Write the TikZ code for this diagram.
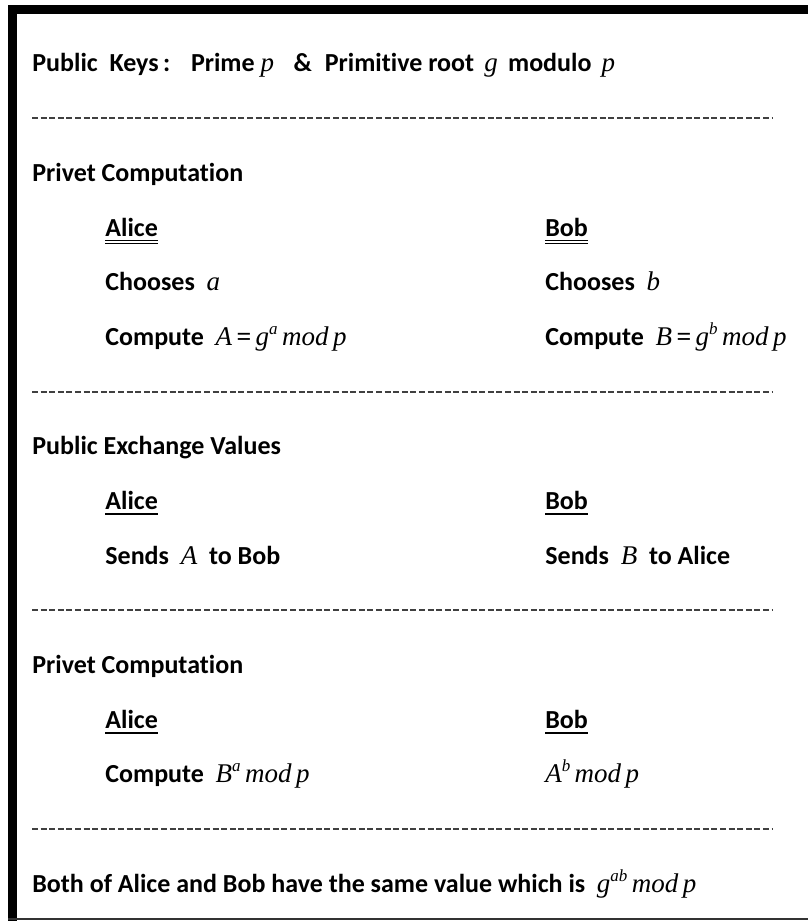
\documentclass[tikz,border=0pt]{standalone}
\usepackage{fontspec}
\setmainfont{Carlito}[Ligatures=NoCommon]
\newfontfamily\timesfont{Liberation Serif}
\usepackage{tikz}

% italic variables set in a Times-like face
\newcommand{\mv}[1]{{\timesfont\itshape\mdseries\fontsize{13.5}{15}\selectfont #1}}
\newcommand{\pw}[1]{\raisebox{0.42em}{\timesfont\itshape\mdseries\fontsize{8.5}{9}\selectfont #1}}
\newcommand{\modp}{\mv{mod\,p}}

\begin{document}
\begin{tikzpicture}[x=0.5pt,y=-0.5pt]
    \tikzstyle{every node} = [font=\fontsize{13}{15}\selectfont\bfseries, anchor=base west, inner sep=0pt]
    \tikzstyle{sep} = [draw=black!75, line width=0.75pt, dash pattern=on 3pt off 1.3pt]
    \tikzstyle{uline} = [line width=0.9pt]
    \tikzstyle{dline} = [line width=0.45pt]
    \useasboundingbox (0,0) rectangle (808,921);

    % frame
    \fill (8,5) rectangle (808,14);
    \fill (8,5) rectangle (17,921);
    \draw[black!80,line width=1pt] (8,919) -- (808,919);

    % public keys
    \node (keys) at (32,71) {Public\ \ Keys\,:\hspace{0.8em}Prime\ \mv{p}\hspace{0.75em}\&\hspace{0.5em}Primitive root\,\ \mv{g}\,\ modulo\,\ \mv{p}};
    \draw[sep] (32,118) -- (773,118);

    % first private step
    \node (priv1) at (32,181) {Privet Computation};
    \node (alice1) at (105,236) {Alice};
    \node (bob1) at (545,236) {Bob};
    \node (chooseA) at (105,290) {Chooses\ \ \mv{a}};
    \node (chooseB) at (545,290) {Chooses\ \ \mv{b}};
    \node (compA) at (105,345) {Compute\ \ \mv{A}\,{\timesfont=}\,\mv{g}\pw{a}\,\modp};
    \node (compB) at (545,345) {Compute\ \ \mv{B}\,{\timesfont=}\,\mv{g}\pw{b}\,\modp};
    \foreach \n in {alice1,bob1}{
        \draw[dline] ([yshift=-2.2pt]\n.base west) -- ([yshift=-2.2pt]\n.base east);
        \draw[dline] ([yshift=-3.7pt]\n.base west) -- ([yshift=-3.7pt]\n.base east);
    }
    \draw[sep] (32,392) -- (773,392);

    % exchange
    \node (pub) at (32,454) {Public Exchange Values};
    \node (alice2) at (105,509) {Alice};
    \node (bob2) at (545,509) {Bob};
    \node (sendA) at (105,564) {Sends\ \ \mv{A}\ \ to Bob};
    \node (sendB) at (545,564) {Sends\ \ \mv{B}\ \ to Alice};
    \draw[sep] (32,610) -- (773,610);

    % second private step
    \node (priv2) at (32,673) {Privet Computation};
    \node (alice3) at (105,728) {Alice};
    \node (bob3) at (545,728) {Bob};
    \node (keyA) at (105,782) {Compute\ \ \mv{B}\pw{a}\,\modp};
    \node (keyB) at (545,782) {\mv{A}\pw{b}\,\modp};
    \foreach \n in {alice2,bob2,alice3,bob3}
        \draw[uline] ([yshift=-2.6pt]\n.base west) -- ([yshift=-2.6pt]\n.base east);
    \draw[sep] (32,829) -- (773,829);

    % shared value
    \node (both) at (32,892) {Both of Alice and Bob have the same value which is\ \ \mv{g}\pw{ab}\,\modp};
\end{tikzpicture}
\end{document}
